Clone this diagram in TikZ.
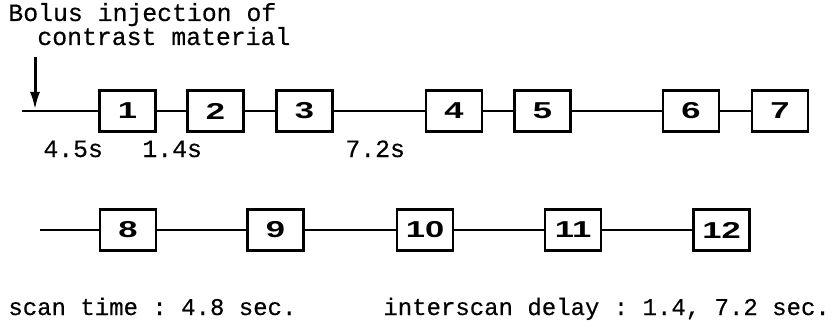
\documentclass[tikz,border=0pt]{standalone}
\usepackage{fontspec}
\setmonofont[FakeBold=0.4]{Liberation Mono}
\newfontfamily\boxfont[FakeStretch=1.5]{Liberation Sans}
\usetikzlibrary{arrows.meta}

\begin{document}
\begin{tikzpicture}[x=0.5pt,y=-0.5pt,
  scanbox/.style={draw,line width=1.3pt,minimum width=28pt,minimum height=20.5pt,
    inner sep=0pt,font=\boxfont\bfseries\fontsize{11.5}{12}\selectfont},
  lbl/.style={anchor=base west,inner sep=0pt,font=\ttfamily\fontsize{12.4}{14}\selectfont},
  note/.style={anchor=base west,inner sep=0pt,font=\ttfamily\fontsize{12}{14}\selectfont}]
  \useasboundingbox (0,0) rectangle (838,331);
  % injection
  \node[lbl] (bolus) at (8,21) {Bolus injection of};
  \node[lbl] (contrast) at (37,45) {contrast material};
  \coordinate (inj) at (35,57);
  \coordinate (hit) at (35,110);
  \draw[line width=1.5pt,-{Latex[length=9pt,width=5pt]}] (inj) -- (hit);
  % first row of scans
  \coordinate (start1) at (22,111);
  \node[scanbox] (s1) at (127.5,111) {1};
  \node[scanbox] (s2) at (215.5,111) {2};
  \node[scanbox] (s3) at (304.5,111) {3};
  \node[scanbox] (s4) at (454,111) {4};
  \node[scanbox] (s5) at (542.5,111) {5};
  \node[scanbox] (s6) at (691,111) {6};
  \node[scanbox] (s7) at (780,111) {7};
  \draw[line width=1.3pt] (start1) -- (s1) -- (s2) -- (s3) -- (s4) -- (s5) -- (s6) -- (s7);
  \node[lbl] (d1) at (43,157) {4.5s};
  \node[lbl] (d2) at (142,157) {1.4s};
  \node[lbl] (d3) at (345,157) {7.2s};
  % second row of scans
  \coordinate (start2) at (40,230);
  \node[scanbox] (s8) at (128,230) {8};
  \node[scanbox] (s9) at (275.5,230) {9};
  \node[scanbox] (s10) at (425,230) {10};
  \node[scanbox] (s11) at (573,230) {11};
  \node[scanbox] (s12) at (721.5,230) {12};
  \draw[line width=1.3pt] (start2) -- (s8) -- (s9) -- (s10) -- (s11) -- (s12);
  % timing
  \node[note] (scantime) at (8,315) {scan time : 4.8 sec.};
  \node[note] (delay) at (383,315) {interscan delay : 1.4, 7.2 sec.};
\end{tikzpicture}
\end{document}
